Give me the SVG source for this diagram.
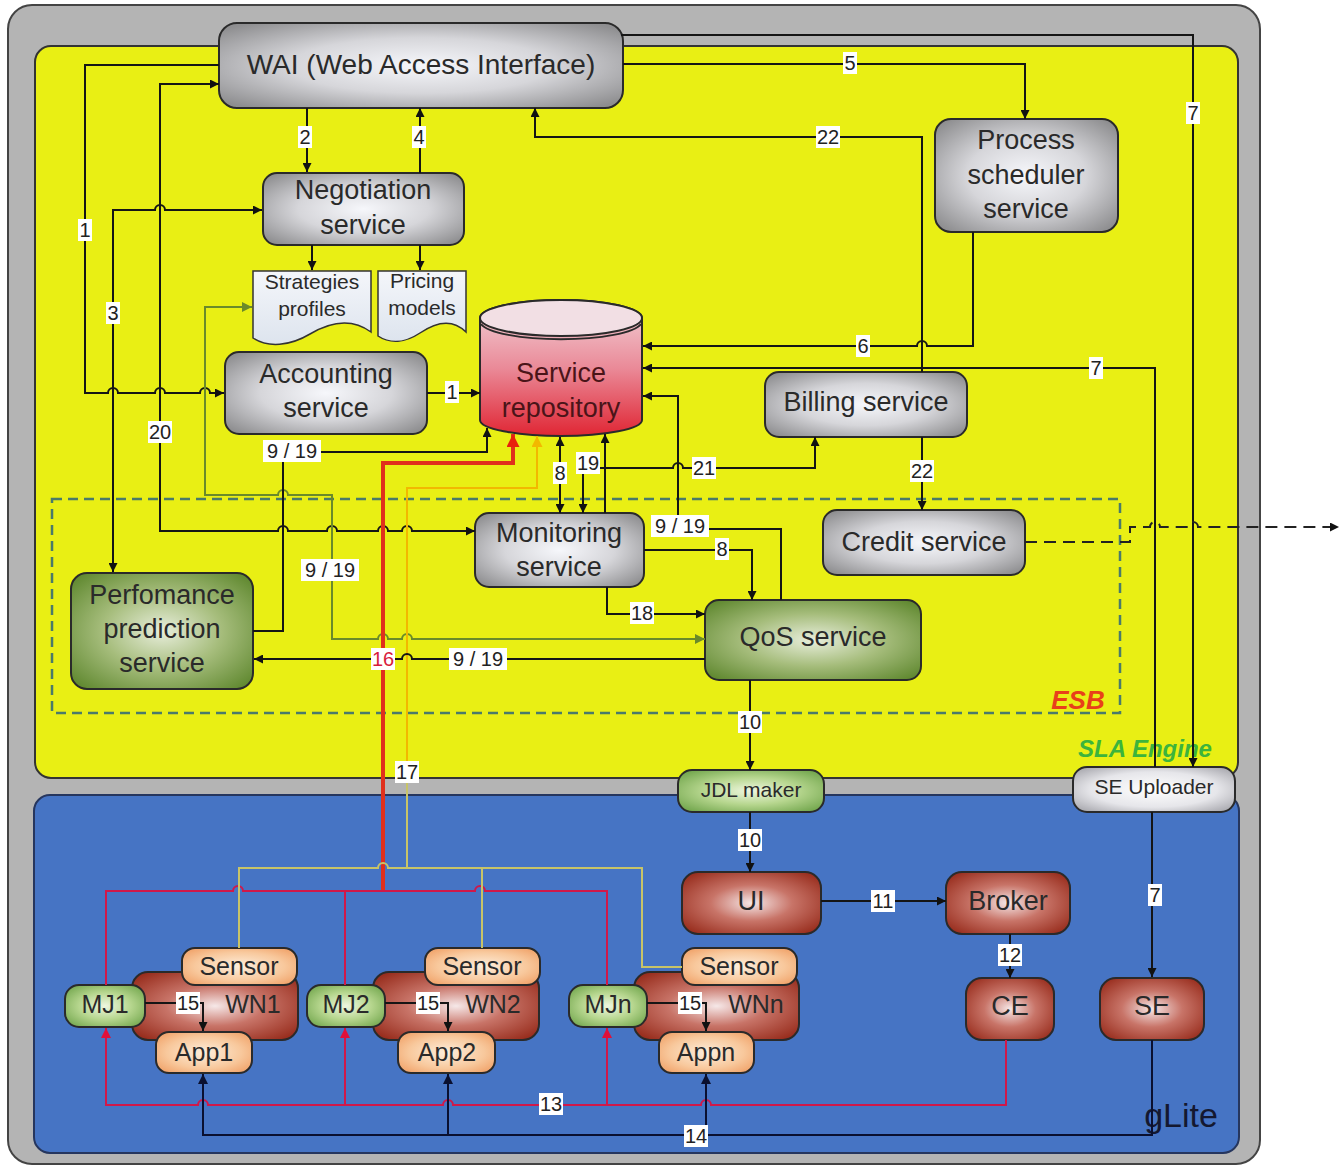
<svg xmlns="http://www.w3.org/2000/svg" width="1341" height="1166" viewBox="0 0 1341 1166">
<style>
.t{font-family:"Liberation Sans",Arial,sans-serif;fill:#2a2a2a;text-anchor:middle}
.n{font-size:27px}
.s{font-size:21px}
.w{font-size:25px}
.lb{font-family:"Liberation Sans",Arial,sans-serif;font-size:20px;fill:#222;text-anchor:middle}
.bg{fill:#fff}
.c{fill:none;stroke:#151515;stroke-width:2}
.nb{stroke:#2a2a2a;stroke-width:2}
</style>
<defs>
<radialGradient id="gGray" cx="50%" cy="50%" r="65%"><stop offset="0" stop-color="#f6f7fb"/><stop offset="0.5" stop-color="#d6d6da"/><stop offset="1" stop-color="#8e8e90"/></radialGradient>
<radialGradient id="gGreen" cx="50%" cy="50%" r="65%"><stop offset="0" stop-color="#e8eedc"/><stop offset="0.5" stop-color="#a6bd7c"/><stop offset="1" stop-color="#628a32"/></radialGradient>
<radialGradient id="gLGreen" cx="50%" cy="50%" r="65%"><stop offset="0" stop-color="#eef7e0"/><stop offset="0.5" stop-color="#b6d68e"/><stop offset="1" stop-color="#6fa44a"/></radialGradient>
<radialGradient id="gDRed" cx="50%" cy="50%" r="65%"><stop offset="0" stop-color="#f6e8e8"/><stop offset="0.45" stop-color="#c87468"/><stop offset="1" stop-color="#962a1a"/></radialGradient>
<radialGradient id="gPeach" cx="50%" cy="50%" r="65%"><stop offset="0" stop-color="#fdeedc"/><stop offset="0.6" stop-color="#f8c89c"/><stop offset="1" stop-color="#f0a066"/></radialGradient>
<radialGradient id="gWhite" cx="50%" cy="50%" r="65%"><stop offset="0" stop-color="#ffffff"/><stop offset="0.6" stop-color="#e6e6ea"/><stop offset="1" stop-color="#a8a8ae"/></radialGradient>
<linearGradient id="gRepo" x1="0" y1="0" x2="0" y2="1"><stop offset="0" stop-color="#f2d4da"/><stop offset="0.5" stop-color="#ea8a98"/><stop offset="1" stop-color="#e02634"/></linearGradient>
<linearGradient id="gDoc" x1="0" y1="0" x2="0" y2="1"><stop offset="0" stop-color="#f4f6fa"/><stop offset="1" stop-color="#dde4ee"/></linearGradient>
<marker id="ah" viewBox="0 0 10 10" refX="10" refY="5" markerWidth="11" markerHeight="9" markerUnits="userSpaceOnUse" orient="auto-start-reverse"><path d="M0,0 L10,5 L0,10 z" fill="#111"/></marker>
<marker id="ahR" viewBox="0 0 10 10" refX="10" refY="5" markerWidth="15" markerHeight="13" markerUnits="userSpaceOnUse" orient="auto"><path d="M0,0 L10,5 L0,10 z" fill="#e8200c"/></marker>
<marker id="ahY" viewBox="0 0 10 10" refX="10" refY="5" markerWidth="13" markerHeight="11" markerUnits="userSpaceOnUse" orient="auto"><path d="M0,0 L10,5 L0,10 z" fill="#f2b800"/></marker>
<marker id="ahG" viewBox="0 0 10 10" refX="10" refY="5" markerWidth="13" markerHeight="10" markerUnits="userSpaceOnUse" orient="auto-start-reverse"><path d="M0,0 L10,5 L0,10 z" fill="#6a8a2a"/></marker>
<marker id="ahM" viewBox="0 0 10 10" refX="10" refY="5" markerWidth="12" markerHeight="10" markerUnits="userSpaceOnUse" orient="auto"><path d="M0,0 L10,5 L0,10 z" fill="#e0103a"/></marker>
<marker id="ahN" viewBox="0 0 10 10" refX="10" refY="5" markerWidth="12" markerHeight="10" markerUnits="userSpaceOnUse" orient="auto"><path d="M0,0 L10,5 L0,10 z" fill="#0a1030"/></marker>
</defs>

<g id="frames">
<rect x="8" y="5" width="1252" height="1159" rx="24" fill="#b4b4b4" stroke="#444" stroke-width="2"/>
<rect x="35" y="46" width="1203" height="732" rx="16" fill="#e9ef14" stroke="#333" stroke-width="2"/>
<rect x="34" y="795" width="1205" height="358" rx="16" fill="#4674c4" stroke="#26365e" stroke-width="2"/>
<rect x="52" y="499" width="1068" height="214" fill="none" stroke="#4a7a6a" stroke-width="2.5" stroke-dasharray="10,6"/>
<text x="1078" y="709" style="font-family:'Liberation Sans',Arial,sans-serif;font-size:26px;font-weight:bold;font-style:italic;fill:#e8401a;text-anchor:middle">ESB</text>
<text x="1145" y="757" style="font-family:'Liberation Sans',Arial,sans-serif;font-size:24px;font-weight:bold;font-style:italic;fill:#3cb43c;text-anchor:middle">SLA Engine</text>
<text x="1181" y="1127" style="font-family:'Liberation Sans',Arial,sans-serif;font-size:34px;fill:#141830;text-anchor:middle">gLite</text>
</g>

<g id="node-wai"><rect x="219" y="23" width="404" height="85" rx="18" fill="url(#gGray)" class="nb"/><text x="421" y="74" class="t" style="font-size:28px">WAI (Web Access Interface)</text></g>
<g id="node-negotiation"><rect x="263" y="173" width="201" height="72" rx="14" fill="url(#gGray)" class="nb"/><text x="363" y="199" class="t n">Negotiation</text><text x="363" y="234" class="t n">service</text></g>
<g id="node-strategies"><path d="M253,271 H371 V332 C352,318 330,322 310,334 C290,346 268,348 253,338 Z" fill="url(#gDoc)" stroke="#333" stroke-width="1.5"/><text x="312" y="289" class="t s">Strategies</text><text x="312" y="316" class="t s">profiles</text></g>
<g id="node-pricing"><path d="M378,271 H466 V332 C452,318 436,322 420,333 C405,343 390,344 378,336 Z" fill="url(#gDoc)" stroke="#333" stroke-width="1.5"/><text x="422" y="288" class="t s">Pricing</text><text x="422" y="315" class="t s">models</text></g>
<g id="node-repository"><path d="M480,318 V420 A81,16 0 0 0 642,420 V318 A81,18 0 0 0 480,318 Z" fill="url(#gRepo)" class="nb"/><ellipse cx="561" cy="318" rx="81" ry="18" fill="#f2dfe4" class="nb"/><path d="M481,324 A81,18 0 0 0 641,324" fill="none" class="nb"/><text x="561" y="382" class="t n" style="fill:#4a1418">Service</text><text x="561" y="417" class="t n" style="fill:#4a1418">repository</text></g>
<g id="node-accounting"><rect x="225" y="352" width="202" height="82" rx="14" fill="url(#gGray)" class="nb"/><text x="326" y="383" class="t n">Accounting</text><text x="326" y="417" class="t n">service</text></g>
<g id="node-process"><rect x="935" y="119" width="183" height="113" rx="16" fill="url(#gGray)" class="nb"/><text x="1026" y="149" class="t n">Process</text><text x="1026" y="184" class="t n">scheduler</text><text x="1026" y="218" class="t n">service</text></g>
<g id="node-billing"><rect x="765" y="372" width="202" height="65" rx="14" fill="url(#gGray)" class="nb"/><text x="866" y="411" class="t n">Billing service</text></g>
<g id="node-credit"><rect x="823" y="510" width="202" height="65" rx="14" fill="url(#gGray)" class="nb"/><text x="924" y="551" class="t n">Credit service</text></g>
<g id="node-monitoring"><rect x="475" y="513" width="169" height="74" rx="14" fill="url(#gGray)" class="nb"/><text x="559" y="542" class="t n">Monitoring</text><text x="559" y="576" class="t n">service</text></g>
<g id="node-qos"><rect x="705" y="600" width="216" height="80" rx="14" fill="url(#gGreen)" class="nb"/><text x="813" y="646" class="t n">QoS service</text></g>
<g id="node-perf"><rect x="71" y="573" width="182" height="116" rx="16" fill="url(#gGreen)" class="nb"/><text x="162" y="604" class="t n">Perfomance</text><text x="162" y="638" class="t n">prediction</text><text x="162" y="672" class="t n">service</text></g>
<g id="node-jdl"><rect x="678" y="770" width="146" height="42" rx="14" fill="url(#gLGreen)" class="nb"/><text x="751" y="797" class="t s">JDL maker</text></g>
<g id="node-seuploader"><rect x="1073" y="767" width="162" height="45" rx="14" fill="url(#gWhite)" class="nb"/><text x="1154" y="794" class="t s">SE Uploader</text></g>
<g id="node-ui"><rect x="682" y="872" width="139" height="62" rx="16" fill="url(#gDRed)" class="nb"/><text x="751" y="910" class="t n">UI</text></g>
<g id="node-broker"><rect x="946" y="872" width="124" height="62" rx="16" fill="url(#gDRed)" class="nb"/><text x="1008" y="910" class="t n">Broker</text></g>
<g id="node-ce"><rect x="966" y="978" width="88" height="62" rx="16" fill="url(#gDRed)" class="nb"/><text x="1010" y="1015" class="t n">CE</text></g>
<g id="node-se"><rect x="1100" y="978" width="104" height="62" rx="16" fill="url(#gDRed)" class="nb"/><text x="1152" y="1015" class="t n">SE</text></g>

<g id="node-wn1"><rect x="132" y="972" width="166" height="68" rx="16" fill="url(#gDRed)" class="nb"/><text x="253" y="1013" class="t w">WN1</text></g>
<g id="node-mj1"><rect x="65" y="985" width="80" height="42" rx="14" fill="url(#gLGreen)" class="nb"/><text x="105" y="1013" class="t w">MJ1</text></g>
<g id="node-sensor1"><rect x="182" y="948" width="115" height="37" rx="13" fill="url(#gPeach)" class="nb"/><text x="239" y="975" class="t w">Sensor</text></g>
<g id="node-app1"><rect x="156" y="1032" width="96" height="41" rx="13" fill="url(#gPeach)" class="nb"/><text x="204" y="1061" class="t w">App1</text></g>

<g id="node-wn2"><rect x="373" y="972" width="166" height="68" rx="16" fill="url(#gDRed)" class="nb"/><text x="493" y="1013" class="t w">WN2</text></g>
<g id="node-mj2"><rect x="307" y="985" width="78" height="42" rx="14" fill="url(#gLGreen)" class="nb"/><text x="346" y="1013" class="t w">MJ2</text></g>
<g id="node-sensor2"><rect x="425" y="948" width="115" height="37" rx="13" fill="url(#gPeach)" class="nb"/><text x="482" y="975" class="t w">Sensor</text></g>
<g id="node-app2"><rect x="398" y="1032" width="97" height="41" rx="13" fill="url(#gPeach)" class="nb"/><text x="447" y="1061" class="t w">App2</text></g>

<g id="node-wnn"><rect x="634" y="972" width="165" height="68" rx="16" fill="url(#gDRed)" class="nb"/><text x="756" y="1013" class="t w">WNn</text></g>
<g id="node-mjn"><rect x="569" y="985" width="78" height="42" rx="14" fill="url(#gLGreen)" class="nb"/><text x="608" y="1013" class="t w">MJn</text></g>
<g id="node-sensorn"><rect x="682" y="948" width="115" height="37" rx="13" fill="url(#gPeach)" class="nb"/><text x="739" y="975" class="t w">Sensor</text></g>
<g id="node-appn"><rect x="659" y="1032" width="95" height="41" rx="13" fill="url(#gPeach)" class="nb"/><text x="706" y="1061" class="t w">Appn</text></g>

<g id="connectors">
<path class="c" d="M219,65 H85 V393 H108 a5,5 0 0 1 10,0 H155 a5,5 0 0 1 10,0 H200 a5,5 0 0 1 10,0 H224" marker-end="url(#ah)"/>
<path class="c" d="M262,210 H165 a5,5 0 0 0 -10,0 H113 V572" marker-start="url(#ah)" marker-end="url(#ah)"/>
<path class="c" d="M219,84 H160 V531 H278 a5,5 0 0 1 10,0 H327 a5,5 0 0 1 10,0 H378 a5,5 0 0 1 10,0 H402 a5,5 0 0 1 10,0 H475" marker-start="url(#ah)" marker-end="url(#ah)"/>
<path class="c" d="M307,108 V172" marker-end="url(#ah)"/>
<path class="c" d="M420,173 V108" marker-end="url(#ah)"/>
<path class="c" d="M312,245 V270" marker-end="url(#ah)"/>
<path class="c" d="M420,245 V270" marker-end="url(#ah)"/>
<path class="c" d="M427,393 H480" marker-end="url(#ah)"/>
<path class="c" d="M623,64 H1025 V119" marker-end="url(#ah)"/>
<path class="c" d="M922,372 V137 H535 V108" marker-end="url(#ah)"/>
<path class="c" d="M973,232 V346 H927 a5,5 0 0 0 -10,0 H643" marker-end="url(#ah)"/>
<path class="c" d="M621,35 H1193 V767" marker-end="url(#ah)"/>
<path class="c" d="M1155,767 V368 H643" marker-end="url(#ah)"/>
<path class="c" d="M1152,812 V977" marker-end="url(#ah)"/>
<path fill="none" stroke="#6a8a2a" stroke-width="2" d="M705,639 H412 a5,5 0 0 0 -10,0 H388 a5,5 0 0 0 -10,0 H332 V495 H288 a5,5 0 0 0 -10,0 H205 V307 H252" marker-start="url(#ahG)" marker-end="url(#ahG)"/>
<path class="c" d="M253,631 H283 V452 H487 V428" marker-end="url(#ah)"/>
<path fill="none" stroke="#e0301c" stroke-width="4" d="M383,891 V463 H513 V434" marker-end="url(#ahR)"/>
<path fill="none" stroke="#c8c468" stroke-width="2" d="M407,868 V778"/>
<path fill="none" stroke="#f2b800" stroke-width="2" d="M407,778 V488 H537 V436" marker-end="url(#ahY)"/>
<path class="c" d="M560,437 V513" marker-start="url(#ah)" marker-end="url(#ah)"/>
<path class="c" d="M605,513 V434" marker-end="url(#ah)"/>
<path class="c" d="M605,468 H583 V513" marker-end="url(#ah)"/>
<path class="c" d="M605,468 H673 a5,5 0 0 1 10,0 H815 V437" marker-end="url(#ah)"/>
<path class="c" d="M781,600 V529 H678 V396 H643" marker-end="url(#ah)"/>
<path class="c" d="M644,550 H752 V600" marker-end="url(#ah)"/>
<path class="c" d="M607,587 V614 H705" marker-end="url(#ah)"/>
<path class="c" d="M705,659 H412 a5,5 0 0 0 -10,0 H254" marker-end="url(#ah)"/>
<path class="c" d="M922,437 V510" marker-end="url(#ah)"/>
<path class="c" d="M750,680 V770" marker-end="url(#ah)"/>
<path class="c" d="M750,812 V872" marker-end="url(#ah)"/>
<path class="c" d="M821,901 H946" marker-end="url(#ah)"/>
<path class="c" d="M1010,934 V978" marker-end="url(#ah)"/>
<path fill="none" stroke="#222" stroke-width="2" stroke-dasharray="12,7" d="M1025,542 H1130 V527 H1150 a5,5 0 0 1 10,0 H1188 a5,5 0 0 1 10,0 H1339" marker-end="url(#ah)"/>
<path fill="none" stroke="#d0184a" stroke-width="2" d="M106,985 V891 H233 a5,5 0 0 1 10,0 H475 a5,5 0 0 1 10,0 H607 V985"/>
<path fill="none" stroke="#d0184a" stroke-width="2" d="M345,891 V985"/>
<path fill="none" stroke="#d0184a" stroke-width="2" d="M1006,1040 V1105 H711 a5,5 0 0 0 -10,0 H453 a5,5 0 0 0 -10,0 H208 a5,5 0 0 0 -10,0 H106 V1028" marker-end="url(#ahM)"/>
<path fill="none" stroke="#d0184a" stroke-width="2" d="M345,1105 V1028" marker-end="url(#ahM)"/>
<path fill="none" stroke="#d0184a" stroke-width="2" d="M607,1105 V1028" marker-end="url(#ahM)"/>
<path fill="none" stroke="#c8c468" stroke-width="2" d="M239,948 V868 H378 a5,5 0 0 1 10,0 H642 V967 H682"/>
<path fill="none" stroke="#c8c468" stroke-width="2" d="M482,948 V868"/>
<path fill="none" stroke="#0a1030" stroke-width="2" d="M1152,1040 V1135 H203 V1074" marker-end="url(#ahN)"/>
<path fill="none" stroke="#0a1030" stroke-width="2" d="M448,1135 V1074" marker-end="url(#ahN)"/>
<path fill="none" stroke="#0a1030" stroke-width="2" d="M706,1135 V1074" marker-end="url(#ahN)"/>
<path class="c" d="M145,1003 H203 V1031" marker-end="url(#ah)"/>
<path class="c" d="M385,1003 H448 V1031" marker-end="url(#ah)"/>
<path class="c" d="M647,1003 H706 V1031" marker-end="url(#ah)"/>
</g>

<g id="labels">
<rect class="bg" x="298" y="126" width="14" height="22"/><text class="lb" x="305" y="144">2</text>
<rect class="bg" x="412" y="126" width="14" height="22"/><text class="lb" x="419" y="144">4</text>
<rect class="bg" x="843" y="52" width="14" height="22"/><text class="lb" x="850" y="70">5</text>
<rect class="bg" x="816" y="126" width="24" height="22"/><text class="lb" x="828" y="144">22</text>
<rect class="bg" x="1186" y="102" width="14" height="22"/><text class="lb" x="1193" y="120">7</text>
<rect class="bg" x="78" y="219" width="14" height="22"/><text class="lb" x="85" y="237">1</text>
<rect class="bg" x="106" y="302" width="14" height="22"/><text class="lb" x="113" y="320">3</text>
<rect class="bg" x="148" y="421" width="24" height="22"/><text class="lb" x="160" y="439">20</text>
<rect class="bg" x="445" y="381" width="14" height="22"/><text class="lb" x="452" y="399">1</text>
<rect class="bg" x="856" y="335" width="14" height="22"/><text class="lb" x="863" y="353">6</text>
<rect class="bg" x="1089" y="357" width="14" height="22"/><text class="lb" x="1096" y="375">7</text>
<rect class="bg" x="263" y="440" width="58" height="22"/><text class="lb" x="292" y="458">9 / 19</text>
<rect class="bg" x="553" y="462" width="14" height="22"/><text class="lb" x="560" y="480">8</text>
<rect class="bg" x="576" y="452" width="24" height="22"/><text class="lb" x="588" y="470">19</text>
<rect class="bg" x="692" y="457" width="24" height="22"/><text class="lb" x="704" y="475">21</text>
<rect class="bg" x="910" y="460" width="24" height="22"/><text class="lb" x="922" y="478">22</text>
<rect class="bg" x="651" y="515" width="58" height="22"/><text class="lb" x="680" y="533">9 / 19</text>
<rect class="bg" x="715" y="538" width="14" height="22"/><text class="lb" x="722" y="556">8</text>
<rect class="bg" x="301" y="559" width="58" height="22"/><text class="lb" x="330" y="577">9 / 19</text>
<rect class="bg" x="630" y="602" width="24" height="22"/><text class="lb" x="642" y="620">18</text>
<rect class="bg" x="371" y="648" width="24" height="22"/><text class="lb" x="383" y="666" style="fill:#d81c3c">16</text>
<rect class="bg" x="449" y="648" width="58" height="22"/><text class="lb" x="478" y="666">9 / 19</text>
<rect class="bg" x="738" y="711" width="24" height="22"/><text class="lb" x="750" y="729">10</text>
<rect class="bg" x="395" y="761" width="24" height="22"/><text class="lb" x="407" y="779">17</text>
<rect class="bg" x="738" y="829" width="24" height="22"/><text class="lb" x="750" y="847">10</text>
<rect class="bg" x="871" y="890" width="24" height="22"/><text class="lb" x="883" y="908">11</text>
<rect class="bg" x="1148" y="884" width="14" height="22"/><text class="lb" x="1155" y="902">7</text>
<rect class="bg" x="998" y="944" width="24" height="22"/><text class="lb" x="1010" y="962">12</text>
<rect class="bg" x="176" y="992" width="24" height="22"/><text class="lb" x="188" y="1010">15</text>
<rect class="bg" x="416" y="992" width="24" height="22"/><text class="lb" x="428" y="1010">15</text>
<rect class="bg" x="678" y="992" width="24" height="22"/><text class="lb" x="690" y="1010">15</text>
<rect class="bg" x="539" y="1093" width="24" height="22"/><text class="lb" x="551" y="1111">13</text>
<rect class="bg" x="684" y="1125" width="24" height="22"/><text class="lb" x="696" y="1143">14</text>
</g>
</svg>
